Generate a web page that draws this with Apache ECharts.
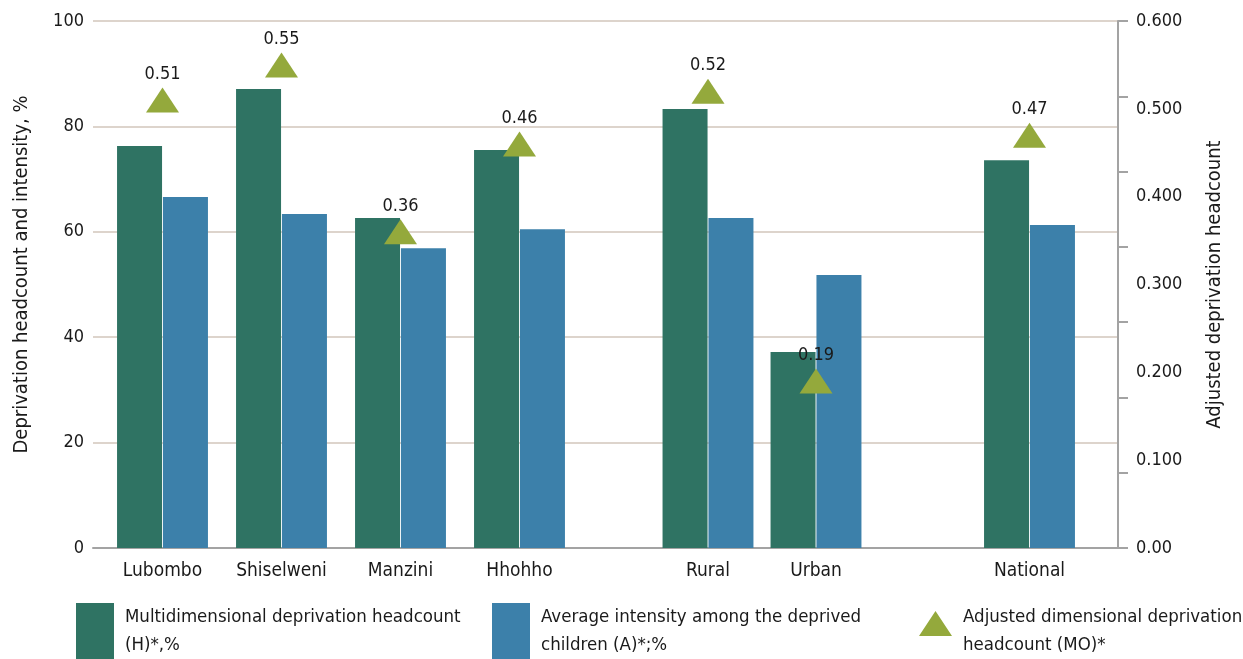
<!DOCTYPE html>
<html>
<head>
<meta charset="utf-8">
<script src="https://cdn.jsdelivr.net/npm/echarts@6/dist/echarts.min.js"></script>
<style>
html,body{margin:0;padding:0;background:#fff;}
#c{width:1243px;height:659px;}
</style>
</head>
<body>
<div id="c"></div>
<script>
// ---- data ----
var categories = ['Lubombo', 'Shiselweni', 'Manzini', 'Hhohho', 'Rural', 'Urban', 'National'];
var headcountH = [76.3, 87.1, 62.6, 75.5, 83.3, 37.2, 73.6];
var intensityA = [66.6, 63.4, 56.9, 60.5, 62.6, 51.8, 61.3];
var adjustedM0 = [0.51, 0.55, 0.36, 0.46, 0.52, 0.19, 0.47];
var leftTicks = [0, 20, 40, 60, 80, 100];
var rightTickLabels = ['0.00', '0.100', '0.200', '0.300', '0.400', '0.500', '0.600'];
var seriesNames = [
  'Multidimensional deprivation headcount\n(H)*,%',
  'Average intensity among the deprived\nchildren (A)*;%',
  'Adjusted dimensional deprivation\nheadcount (MO)*'
];
var groups = [[0, 4], [4, 6], [6, 7]]; // regions, residence, national

// ---- styles / layout ----
var FONT = '"Liberation Sans Narrow", "DejaVu Sans Condensed", sans-serif';
var TXT = '#1a1a1a';
var GREEN = '#2f7363';
var BLUE = '#3c80aa';
var OLIVE = '#94a93c';
var AXIS = '#a3a3a3';
var GRIDLINE = '#ddd4cc';
var TOP = 21, BOTTOM = 111;
var barGrids = [
  {left: 103, width: 476},
  {left: 654, width: 216},
  {left: 975.5, width: 108}
];

var grid = [{left: 93, right: 125, top: TOP, bottom: BOTTOM, outerBoundsMode: 'none'}];
barGrids.forEach(function (g) {
  grid.push({left: g.left, width: g.width, top: TOP, bottom: BOTTOM, outerBoundsMode: 'none'});
});

var xAxis = [{
  gridIndex: 0, type: 'value', min: 0, max: 1,
  axisLine: {show: true, onZero: false, lineStyle: {color: AXIS, width: 2}},
  axisTick: {show: false}, axisLabel: {show: false}, splitLine: {show: false}
}];
var yAxis = [
  {
    gridIndex: 0, type: 'value', position: 'left',
    min: leftTicks[0], max: leftTicks[leftTicks.length - 1], interval: leftTicks[1] - leftTicks[0],
    axisLine: {show: false}, axisTick: {show: false},
    axisLabel: {color: TXT, fontFamily: FONT, fontSize: 18, margin: 9},
    splitLine: {show: true, lineStyle: {color: GRIDLINE, width: 2}},
    name: 'Deprivation headcount and intensity, %',
    nameLocation: 'middle', nameRotate: 90, nameGap: 61,
    nameTextStyle: {color: TXT, fontFamily: FONT, fontSize: 20, padding: [0, 0, 0, 20]}
  },
  {
    gridIndex: 0, type: 'value', position: 'right',
    min: 0, max: 0.6, interval: 0.1,
    axisLine: {show: true, lineStyle: {color: AXIS, width: 2}},
    axisTick: {show: false}, splitLine: {show: false},
    axisLabel: {
      color: TXT, fontFamily: FONT, fontSize: 18, margin: 18,
      formatter: function (v) { return rightTickLabels[Math.round(v * 10)]; }
    },
    name: 'Adjusted deprivation headcount',
    nameLocation: 'middle', nameRotate: 90, nameGap: 87,
    nameTextStyle: {color: TXT, fontFamily: FONT, fontSize: 20}
  },
  {
    gridIndex: 0, type: 'value', position: 'right',
    min: 0, max: 7, interval: 1,
    axisLine: {show: false},
    axisTick: {show: true, inside: false, length: 10, lineStyle: {color: AXIS, width: 2}},
    axisLabel: {show: false}, splitLine: {show: false}
  }
];

var series = [];
groups.forEach(function (rng, gi) {
  var gIdx = gi + 1;
  var cats = categories.slice(rng[0], rng[1]);
  xAxis.push({
    gridIndex: gIdx, type: 'category', data: cats,
    axisLine: {show: false}, axisTick: {show: false},
    axisLabel: {color: TXT, fontFamily: FONT, fontSize: 19, margin: 14, interval: 0}
  });
  var yl = yAxis.length;
  yAxis.push({gridIndex: gIdx, type: 'value', min: 0, max: 100, show: false, splitLine: {show: false}});
  yAxis.push({gridIndex: gIdx, type: 'value', min: 0, max: 0.6, show: false, splitLine: {show: false}});
  var xi = xAxis.length - 1;
  series.push({
    name: seriesNames[0], type: 'bar', xAxisIndex: xi, yAxisIndex: yl,
    data: headcountH.slice(rng[0], rng[1]),
    barWidth: 45, barGap: '2%', itemStyle: {color: GREEN}, z: 2
  });
  series.push({
    name: seriesNames[1], type: 'bar', xAxisIndex: xi, yAxisIndex: yl,
    data: intensityA.slice(rng[0], rng[1]),
    barWidth: 45, barGap: '2%', itemStyle: {color: BLUE}, z: 2
  });
  series.push({
    name: seriesNames[2], type: 'scatter', xAxisIndex: xi, yAxisIndex: yl + 1,
    data: adjustedM0.slice(rng[0], rng[1]),
    symbol: 'triangle', symbolSize: [33, 25], itemStyle: {color: OLIVE, opacity: 1}, z: 3,
    label: {
      show: true, position: 'top', distance: 4,
      color: TXT, fontFamily: FONT, fontSize: 18,
      formatter: function (p) { return p.value.toFixed(2); }
    }
  });
});

function legendOf(name, left, icon, w, h) {
  return {
    data: [{name: name, icon: icon}],
    left: left, top: 603, padding: 0, orient: 'horizontal',
    itemWidth: w, itemHeight: h, selectedMode: false,
    textStyle: {color: TXT, fontFamily: FONT, fontSize: 18.5, lineHeight: 28, padding: [0, 0, 0, 6]}
  };
}

var option = {
  animation: false,
  backgroundColor: '#ffffff',
  grid: grid,
  xAxis: xAxis,
  yAxis: yAxis,
  legend: [
    legendOf(seriesNames[0], 76, 'rect', 38, 56),
    legendOf(seriesNames[1], 492, 'rect', 38, 56),
    legendOf(seriesNames[2], 919,
      'path://M0,0L0.05,0L0,0.05Z M0,33L16.5,8L33,33Z M33,56L32.95,56L33,55.95Z', 33, 56)
  ],
  series: series
};

var chart = echarts.init(document.getElementById('c'), null, {renderer: 'canvas'});
chart.setOption(option);
</script>
</body>
</html>
